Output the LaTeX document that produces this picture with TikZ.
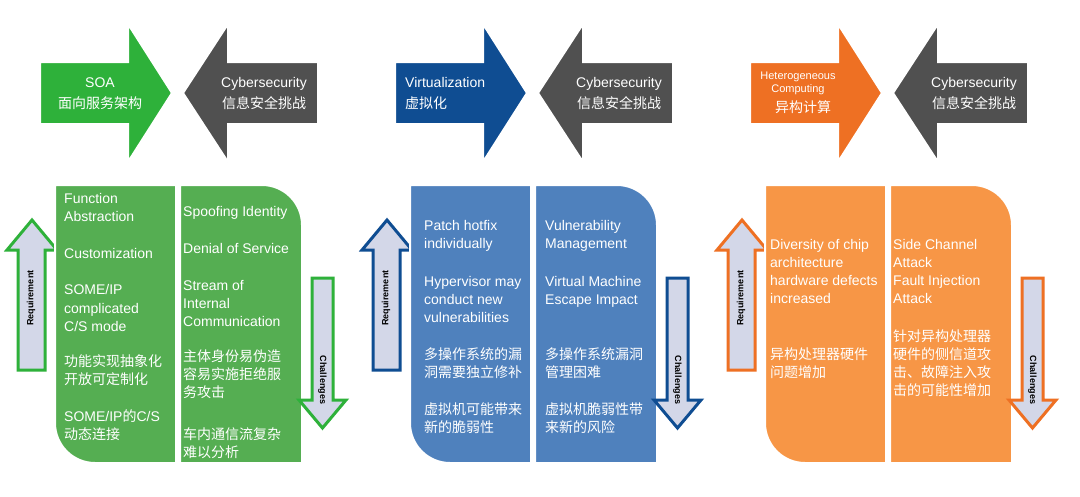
\documentclass[tikz,border=0pt]{standalone}
\usepackage{fontspec}
\setmainfont{Liberation Sans}
\newfontfamily\cjk{Noto Sans CJK SC}
\definecolor{gA}{HTML}{2EB13A}\definecolor{gB}{HTML}{55AE52}
\definecolor{bA}{HTML}{0F4D92}\definecolor{bB}{HTML}{4F81BD}
\definecolor{oA}{HTML}{EE7023}\definecolor{oB}{HTML}{F79646}
\definecolor{dg}{HTML}{505050}\definecolor{lav}{HTML}{D3D7E8}
\begin{document}
\begin{tikzpicture}[x=1pt,y=-1pt,
 t/.style={anchor=base west,text=white,inner sep=0pt,font=\fontsize{14}{18}\selectfont},
 tc/.style={anchor=base,text=white,inner sep=0pt,font=\fontsize{14}{18}\selectfont},
 ts/.style={anchor=base,text=white,inner sep=0pt,font=\fontsize{11}{13}\selectfont},
 lab/.style={text=black,inner sep=0pt,font=\fontsize{9}{10}\selectfont\bfseries},
 big/.style={draw=white,line width=2pt},
 side/.style={fill=lav,line width=3pt,line join=miter}]
\useasboundingbox (0,0) rectangle (1080,496);
\fill[white] (0,0) rectangle (1080,496);
\newcommand\toparrows[2]{%
 \fill[#1,big] (40,62)--(128,62)--(128,24)--(172,93)--(128,162)--(128,124)--(40,124)--cycle;
 \fill[dg,big] (318,62)--(228,62)--(228,24)--(183,93)--(228,162)--(228,124)--(318,124)--cycle;}
\newcommand\lowerpanel[2]{%
 \draw[side,draw=#1] (18,370)--(18,250)--(7,250)--(32,220)--(57,250)--(45,250)--(45,370)--cycle;
 \node[lab,rotate=90] (req) at (31,298) {Requirement};
 \fill[#2,big] (55,185)--(176,185)--(176,463)--(95,463) .. controls (72.9,463) and (55,445.1) .. (55,423)--cycle;
 \fill[#2,big] (180,185)--(262,185) .. controls (284.1,185) and (302,202.9) .. (302,225)--(302,463)--(180,463)--cycle;
 \draw[side,draw=#1] (312,278)--(333,278)--(333,400)--(346,400)--(322.5,428)--(299,400)--(312,400)--cycle;
 \node[lab,rotate=-90] (chal) at (322.5,380) {Challenges};}
% Panel 1
\toparrows{gA}{}
\node[tc] (p1a) at (100,87) {SOA};
\node[tc] (p1b) at (100,108) {\cjk 面向服务架构};
\node[tc] (p1c) at (264,87) {Cybersecurity};
\node[tc] (p1d) at (264,108) {\cjk 信息安全挑战};
\lowerpanel{gA}{gB}
\node[t] at (64,203) {Function};
\node[t] at (64,221) {Abstraction};
\node[t] at (64,258) {Customization};
\node[t] at (64,294) {SOME/IP};
\node[t] at (64,313) {complicated};
\node[t] at (64,331) {C/S mode};
\node[t] at (64,366) {\cjk 功能实现抽象化};
\node[t] at (64,384) {\cjk 开放可定制化};
\node[t] at (64,421) {SOME/IP{\cjk 的}C/S};
\node[t] at (64,439) {\cjk 动态连接};
\node[t] at (183,216) {Spoofing Identity};
\node[t] at (183,253) {Denial of Service};
\node[t] at (183,290) {Stream of};
\node[t] at (183,308) {Internal};
\node[t] at (183,326) {Communication};
\node[t] at (183,361) {\cjk 主体身份易伪造};
\node[t] at (183,379) {\cjk 容易实施拒绝服};
\node[t] at (183,397) {\cjk 务攻击};
\node[t] at (183,439) {\cjk 车内通信流复杂};
\node[t] at (183,457) {\cjk 难以分析};
% Panel 2
\begin{scope}[xshift=355pt]
\toparrows{bA}{}
\node[t] (p2a) at (50,87) {Virtualization};
\node[t] (p2b) at (50,108) {\cjk 虚拟化};
\node[tc] (p2c) at (264,87) {Cybersecurity};
\node[tc] (p2d) at (264,108) {\cjk 信息安全挑战};
\lowerpanel{bA}{bB}
\node[t] at (69,230) {Patch hotfix};
\node[t] at (69,248) {individually};
\node[t] at (69,286) {Hypervisor may};
\node[t] at (69,304) {conduct new};
\node[t] at (69,322) {vulnerabilities};
\node[t] at (69,359) {\cjk 多操作系统的漏};
\node[t] at (69,377) {\cjk 洞需要独立修补};
\node[t] at (69,414) {\cjk 虚拟机可能带来};
\node[t] at (69,432) {\cjk 新的脆弱性};
\node[t] at (190,230) {Vulnerability};
\node[t] at (190,248) {Management};
\node[t] at (190,286) {Virtual Machine};
\node[t] at (190,304) {Escape Impact};
\node[t] at (190,359) {\cjk 多操作系统漏洞};
\node[t] at (190,377) {\cjk 管理困难};
\node[t] at (190,414) {\cjk 虚拟机脆弱性带};
\node[t] at (190,432) {\cjk 来新的风险};
\end{scope}
% Panel 3
\begin{scope}[xshift=710pt]
\toparrows{oA}{}
\node[ts] (p3a) at (88,79) {Heterogeneous};
\node[ts] (p3b) at (88,92) {Computing};
\node[t] (p3e) at (65,112) {\cjk 异构计算};
\node[tc] (p3c) at (264,87) {Cybersecurity};
\node[tc] (p3d) at (264,108) {\cjk 信息安全挑战};
\lowerpanel{oA}{oB}
\node[t] at (60,249) {Diversity of chip};
\node[t] at (60,267) {architecture};
\node[t] at (60,285) {hardware defects};
\node[t] at (60,303) {increased};
\node[t] at (60,359) {\cjk 异构处理器硬件};
\node[t] at (60,377) {\cjk 问题增加};
\node[t] at (183,249) {Side Channel};
\node[t] at (183,267) {Attack};
\node[t] at (183,285) {Fault Injection};
\node[t] at (183,303) {Attack};
\node[t] at (183,341) {\cjk 针对异构处理器};
\node[t] at (183,359) {\cjk 硬件的侧信道攻};
\node[t] at (183,377) {\cjk 击、故障注入攻};
\node[t] at (183,395) {\cjk 击的可能性增加};
\end{scope}
\end{tikzpicture}
\end{document}
